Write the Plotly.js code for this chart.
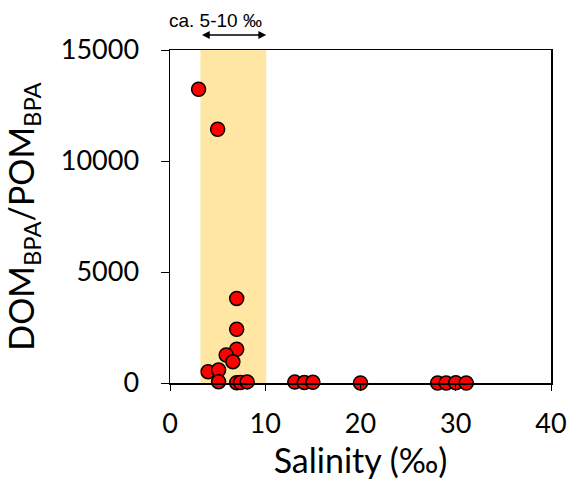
<!DOCTYPE html>
<html>
<head>
<meta charset="utf-8">
<script src="https://cdn.plot.ly/plotly-3.0.1.min.js"></script>
<style>html,body{margin:0;padding:0;background:#fff;}#chart{width:569px;height:483px;}</style>
</head>
<body>
<div id="chart"></div>
<script>
const salinity = [3.0, 5.0, 7.0, 7.0, 7.0, 5.9, 6.6, 4.0, 5.1, 5.1, 7.0, 7.4, 8.1, 13.1, 14.1, 15.0, 20.0, 28.1, 29.0, 30.0, 31.1];
const ratio = [13230, 11430, 3810, 2420, 1520, 1260, 960, 510, 585, 60, 10, 20, 50, 40, 20, 30, 0, 0, 0, 10, 0];
const bandRange = [3.2, 10.1];
const bandLabel = 'ca. 5-10 ‰';
const xTicks = [0, 10, 20, 30, 40];
const yTicks = [0, 5000, 10000, 15000];
const yTickText = ['0', '5000', '10000', '15000'];

const trace = {
  x: salinity, y: ratio, mode: 'markers', type: 'scatter',
  cliponaxis: false,
  marker: {size: 14, color: '#FF0000', line: {color: '#000000', width: 1.5}}
};

const fontFam = 'Lato, "Open Sans", sans-serif';
const layout = {
  width: 569, height: 483,
  margin: {l: 170, r: 18, t: 50, b: 100, autoexpand: false},
  paper_bgcolor: '#fff', plot_bgcolor: '#fff',
  showlegend: false,
  font: {family: fontFam, color: '#000'},
  xaxis: {
    range: [0, 40], tickvals: xTicks, ticks: 'outside', ticklen: 6, tickcolor: '#000',
    showline: true, linecolor: '#000', linewidth: 1.5, mirror: true, showgrid: false, zeroline: false,
    ticklabelstandoff: 10,
    tickfont: {size: 27, family: fontFam, color: '#000'},
    title: {text: 'Salinity (‰)', font: {size: 34, family: fontFam, color: '#000'}, standoff: 4}
  },
  yaxis: {
    range: [0, 15000], tickvals: yTicks, ticktext: yTickText, ticks: 'outside', ticklen: 8, tickcolor: '#000',
    showline: true, linecolor: '#000', linewidth: 1.5, mirror: true, showgrid: false, zeroline: false,
    ticklabelstandoff: 16,
    tickfont: {size: 27, family: fontFam, color: '#000'},
    title: {text: 'DOM<sub>BPA</sub>/POM<sub>BPA</sub>', font: {size: 34, family: fontFam, color: '#000'}, standoff: 18}
  },
  shapes: [{
    type: 'rect', xref: 'x', yref: 'paper', x0: bandRange[0], x1: bandRange[1], y0: 0, y1: 1,
    fillcolor: '#FFE6A3', line: {width: 0}, layer: 'below'
  }],
  annotations: [
    {xref: 'x', yref: 'paper', x: bandRange[1], y: 1.045, axref: 'x', ayref: 'paper', ax: bandRange[0], ay: 1.045,
     text: '', showarrow: true, arrowhead: 2, startarrowhead: 2, arrowside: 'end+start', arrowwidth: 1.3, arrowsize: 1.2, arrowcolor: '#000'},
    {xref: 'x', yref: 'paper', x: 4.75, y: 1.09, text: bandLabel, showarrow: false,
     xanchor: 'center', yanchor: 'middle', font: {size: 19, family: 'Liberation Sans, Arial, sans-serif', color: '#000'}}
  ]
};

Plotly.newPlot('chart', [trace], layout, {displayModeBar: false, staticPlot: true});
</script>
</body>
</html>
